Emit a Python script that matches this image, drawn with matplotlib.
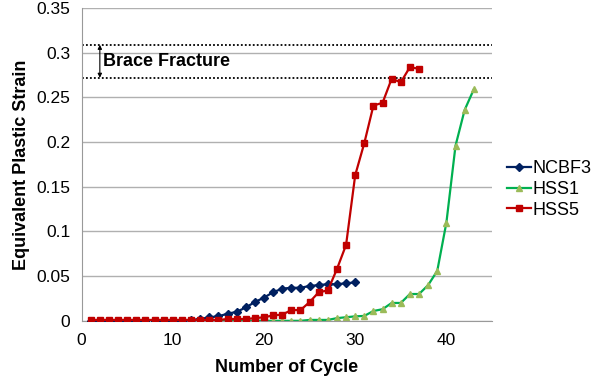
import matplotlib
matplotlib.use("Agg")
import matplotlib.pyplot as plt

plt.rcParams["font.family"] = ["Liberation Sans", "DejaVu Sans"]

# values
ncbf3_cycle = list(range(1, 31))
ncbf3 = [0, 0, 0, 0, 0, 0, 0, 0, 0, 0, 0, 0.001, 0.002, 0.004, 0.005,
         0.008, 0.010, 0.015, 0.021, 0.026, 0.032, 0.036, 0.037, 0.037,
         0.039, 0.040, 0.041, 0.041, 0.042, 0.043]

hss1_cycle = list(range(1, 44))
hss1 = [0] * 24 + [0.001, 0.001, 0.001, 0.003, 0.004, 0.005, 0.0055,
                   0.011, 0.013, 0.020, 0.020, 0.030, 0.030, 0.040, 0.056,
                   0.110, 0.196, 0.236, 0.259]

hss5_cycle = list(range(1, 38))
hss5 = [0.001] * 15 + [0.002, 0.002, 0.002, 0.003, 0.004, 0.006, 0.007,
                       0.012, 0.012, 0.021, 0.032, 0.034, 0.058, 0.085,
                       0.163, 0.199, 0.241, 0.244, 0.271, 0.267, 0.284, 0.282]

fracture_lo, fracture_hi = 0.272, 0.309
x_ticks = [0, 10, 20, 30, 40]
y_ticks = [0, 0.05, 0.1, 0.15, 0.2, 0.25, 0.3, 0.35]
y_labels = ["0", "0.05", "0.1", "0.15", "0.2", "0.25", "0.3", "0.35"]

fig = plt.figure(figsize=(6.0, 3.87), dpi=100)
ax = fig.add_axes([0.136, 0.171, 0.684, 0.808])

ax.plot(ncbf3_cycle, ncbf3, color="#002060", lw=1.6, marker="D", ms=4.2,
        label="NCBF3", zorder=3)
ax.plot(hss1_cycle, hss1, color="#00B050", lw=1.6, marker="^", ms=5,
        mfc="#9BBB59", mec="#9BBB59", label="HSS1", zorder=2)
ax.plot(hss5_cycle, hss5, color="#C00000", lw=1.6, marker="s", ms=4.2,
        label="HSS5", zorder=4)

# brace fracture band
for yv in (fracture_lo, fracture_hi):
    ax.axhline(yv, color="black", lw=1.3, ls=(0, (1, 1.2)), zorder=1)
ax.annotate("", xy=(2, fracture_hi), xytext=(2, fracture_lo),
            arrowprops=dict(arrowstyle="<|-|>", color="black", lw=0.8,
                            mutation_scale=6, shrinkA=0, shrinkB=0))
ax.text(2.4, 0.2905, "Brace Fracture", fontsize=13, fontweight="bold",
        va="center", ha="left")

ax.set_xlim(0, 45)
ax.set_ylim(0, 0.35)
ax.set_xticks(x_ticks)
ax.set_yticks(y_ticks)
ax.set_yticklabels(y_labels)
ax.tick_params(length=0, labelsize=12.5)
ax.tick_params(axis="x", pad=9)
ax.tick_params(axis="y", pad=8)
ax.yaxis.grid(True, color="#b0b0b0", lw=1)
ax.set_axisbelow(True)
for s in ("top", "right"):
    ax.spines[s].set_visible(False)
for s in ("left", "bottom"):
    ax.spines[s].set_color("#999999")

ax.set_xlabel("Number of Cycle", fontsize=13, fontweight="bold", labelpad=8)
ax.set_ylabel("Equivalent Plastic Strain", fontsize=13, fontweight="bold",
              labelpad=5)

ax.legend(loc="center left", bbox_to_anchor=(1.02, 0.42), frameon=False,
          fontsize=13, handlelength=1.3, handletextpad=0.1,
          labelspacing=0.2, borderaxespad=0)

fig.savefig("out.png", dpi=100)
